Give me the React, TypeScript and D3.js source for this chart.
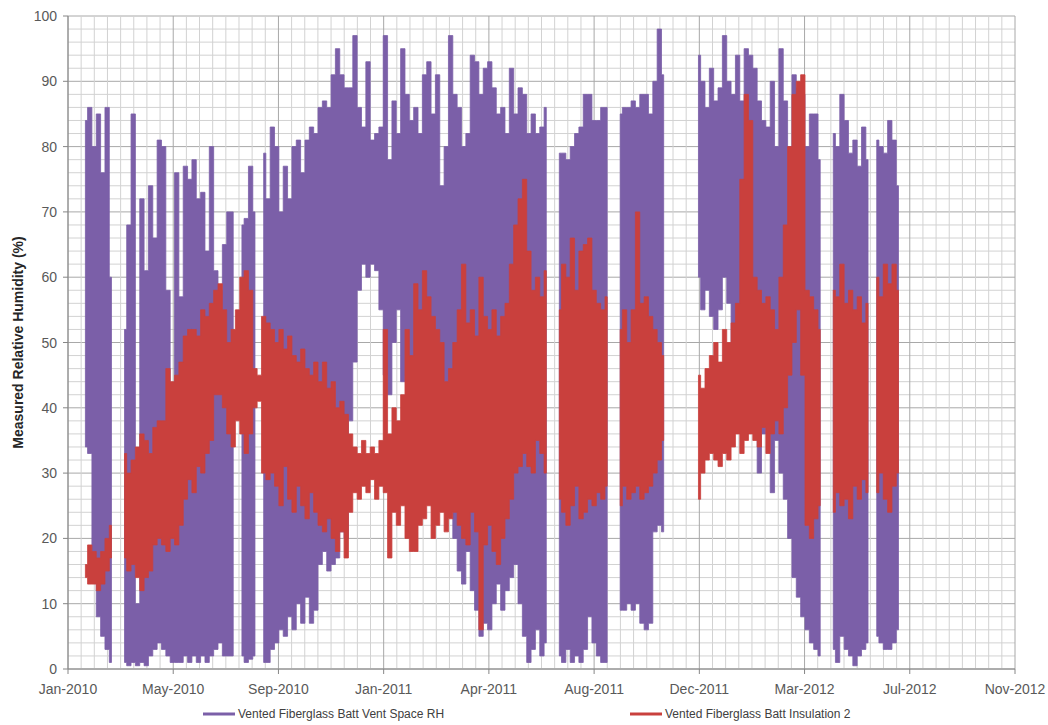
import React from "react";
import * as d3 from "d3";

// readings every 5 days, first one 20 days after 1 Jan 2010
// each reading is the high / low of the band over those 5 days (null = no data)
const firstDay = 20;
const stepDays = 5;

const ventHigh: (number | null)[] = [
  84, 86, 80, 85, 76, 86, 60, null, null, 52,
  68, 85, 10, 72, 61, 74, 66, 81, 80, 58,
  42, 76, 57, 77, 75, 78, 72, 73, 64, 80,
  61, 58, 65, 70, 70, null, 68, 69, 77, 70,
  null, 79, 72, 83, 80, 70, 77, 72, 80, 81,
  76, 81, 83, 82, 86, 87, 86, 91, 95, 91,
  89, 89, 97, 86, 83, 93, 81, 82, 83, 97,
  78, 87, 82, 95, 88, 84, 86, 82, 91, 93,
  85, 91, 74, 80, 97, 88, 86, 80, 82, 94,
  93, 88, 92, 93, 89, 85, 86, 82, 92, 85,
  89, 88, 82, 85, 82, 83, 86, null, null, 79,
  79, 78, 80, 82, 83, 88, 88, 84, 84, 86,
  86, null, null, 85, 86, 86, 87, 86, 88, 88,
  85, 90, 98, 91, null, null, null, null, null, null,
  null, 94, 90, 86, 92, 87, 89, 97, 90, 88,
  94, 87, 95, 94, 92, 87, 84, 83, 90, 80,
  95, 87, 80, 91, 89, 88, 80, 85, 85, 78,
  null, null, 82, 80, 88, 84, 79, 81, 77, 83,
  78, null, 81, 80, 79, 84, 81, 74,
];

const ventLow: (number | null)[] = [
  34, 33, 14, 8, 5, 3, 1, null, null, 1,
  0.5, 1, 0.5, 1, 0.5, 2, 3, 4, 3, 2,
  1, 1, 1, 2, 1, 2, 1, 2, 1, 2,
  3, 4, 2, 2, 2, null, 2, 1, 1.5, 2,
  null, 1, 1, 3, 4, 6, 5, 8, 6, 10,
  7, 11, 7, 9, 16, 18, 15, 16, 17, 21,
  20, 38, 47, 58, 62, 60, 62, 61, 55, 45,
  42, 50, 55, 44, 45, 40, 45, 50, 48, 52,
  46, 40, 38, 35, 30, 20, 15, 13, 18, 12,
  9, 5, 7, 6, 10, 13, 9, 12, 14, 16,
  10, 5, 1, 3, 6, 2, 4, null, null, 2,
  1, 3, 1, 2, 1, 3, 8, 4, 2, 1,
  1, null, null, 9, 9, 10, 9, 10, 7, 6,
  7, 21, 22, 21, null, null, null, null, null, null,
  null, 60, 55, 58, 54, 52, 55, 60, 56, 50,
  47, 45, 42, 40, 38, 30, 36, 40, 27, 35,
  30, 26, 20, 14, 11, 8, 6, 4, 3, 2,
  null, null, 3, 1, 5, 3, 2, 0.5, 2, 3,
  4, null, 5, 4, 3, 3, 4, 6,
];

const insulHigh: (number | null)[] = [
  16, 19, 18, 17, 18, 20, 22, null, null, 33,
  30, 32, 34, 36, 35, 33, 37, 38, 38, 46,
  44, 45, 47, 51, 52, 52, 51, 55, 54, 56,
  58, 59, 55, 50, 52, 55, 60, 61, 58, 46,
  45, 54, 53, 52, 50, 52, 49, 51, 48, 47,
  49, 46, 45, 47, 44, 47, 43, 44, 40, 41,
  39, 36, 34, 33, 35, 33, 34, 33, 35, 52,
  36, 40, 38, 42, 52, 48, 59, 55, 61, 57,
  54, 52, 50, 44, 46, 50, 55, 62, 53, 55,
  51, 60, 54, 52, 55, 51, 54, 56, 62, 68,
  72, 75, 64, 58, 60, 57, 61, null, null, 55,
  62, 60, 66, 58, 64, 65, 66, 58, 56, 55,
  57, null, null, 52, 55, 50, 55, 70, 56, 57,
  54, 52, 50, 48, null, null, null, null, null, null,
  null, 45, 43, 46, 48, 50, 47, 52, 50, 53,
  56, 75, 88, 84, 60, 58, 56, 57, 55, 52,
  60, 68, 80, 88, 90, 91, 58, 57, 55, 52,
  null, null, 58, 57, 62, 56, 58, 55, 57, 53,
  56, null, 60, 57, 62, 59, 62, 58,
];

const insulLow: (number | null)[] = [
  14, 13, 13, 12, 13, 15, 17, null, null, 17,
  15, 16, 14, 12, 14, 15, 19, 20, 19, 18,
  20, 19, 22, 26, 29, 27, 31, 30, 33, 35,
  42, 42, 40, 36, 34, 38, 36, 33, 36, 40,
  41, 30, 29, 30, 28, 25, 31, 26, 24, 28,
  25, 23, 27, 24, 22, 21, 23, 20, 18, 21,
  17, 24, 27, 26, 28, 27, 29, 26, 28, 27,
  17, 24, 22, 25, 20, 18, 18, 22, 23, 25,
  20, 22, 24, 21, 23, 24, 22, 20, 19, 24,
  21, 6, 19, 22, 18, 16, 20, 23, 26, 30,
  31, 33, 31, 30, 35, 33, 30, null, null, 26,
  24, 22, 25, 28, 23, 24, 26, 25, 27, 26,
  28, null, null, 25, 28, 26, 27, 28, 26, 27,
  28, 30, 32, 35, null, null, null, null, null, null,
  null, 26, 30, 32, 33, 32, 31, 33, 32, 34,
  36, 33, 35, 36, 35, 34, 37, 33, 36, 38,
  36, 40, 45, 50, 55, 45, 22, 20, 23, 25,
  null, null, 24, 27, 25, 26, 23, 28, 26, 29,
  27, null, 27, 30, 26, 24, 28, 30,
];

const tickLabels = [
  "Jan-2010", "May-2010", "Sep-2010", "Jan-2011", "Apr-2011",
  "Aug-2011", "Dec-2011", "Mar-2012", "Jul-2012", "Nov-2012",
];
const tickSpanDays = 121;
const minorPerMajor = 8;
const yTicks = [0, 10, 20, 30, 40, 50, 60, 70, 80, 90, 100];

const seriesNames = [
  "Vented Fiberglass Batt Vent Space RH",
  "Vented Fiberglass Batt Insulation 2",
];
const seriesColors = ["#7b5fa8", "#c9403d"];

type Reading = { day: number; hi: number | null; lo: number | null };

function toReadings(hi: (number | null)[], lo: (number | null)[]): Reading[] {
  return hi.map((h, i) => ({ day: firstDay + i * stepDays, hi: h, lo: lo[i] }));
}

export default function App() {
  const width = 1048;
  const height = 725;
  const left = 68;
  const right = 1015;
  const top = 16;
  const bottom = 669;
  const font = "'Liberation Sans', Arial, sans-serif";

  const lastDay = tickSpanDays * (tickLabels.length - 1);
  const x = d3.scaleLinear().domain([0, lastDay]).range([left, right]);
  const y = d3.scaleLinear().domain([0, 100]).range([bottom, top]);

  // stepped band: each reading becomes a short vertical column, like the dense daily swings
  const band = d3
    .area<Reading>()
    .defined((d) => d.hi != null && d.lo != null)
    .curve(d3.curveStep)
    .x((d) => x(d.day))
    .y0((d) => y(d.lo as number))
    .y1((d) => y(d.hi as number));

  const series = [toReadings(ventHigh, ventLow), toReadings(insulHigh, insulLow)];

  const hGrid = d3.range(0, 101, 2);
  const vGrid = d3.range(0, lastDay + 0.01, tickSpanDays / minorPerMajor);
  const majorDays = tickLabels.map((_, i) => i * tickSpanDays);

  return (
    <div style={{ position: "absolute", left: 0, top: 0, background: "#fff" }}>
      <svg width={width} height={height} style={{ display: "block" }}>
        <rect width={width} height={height} fill="#fff" />

        {hGrid.map((v) => (
          <line
            key={"h" + v}
            x1={left}
            x2={right}
            y1={y(v)}
            y2={y(v)}
            stroke={v % 10 === 0 ? "#a8a8a8" : "#d2d2d2"}
            strokeWidth={1}
          />
        ))}
        {vGrid.map((d, i) => (
          <line
            key={"v" + i}
            x1={x(d)}
            x2={x(d)}
            y1={top}
            y2={bottom}
            stroke={i % minorPerMajor === 0 ? "#a8a8a8" : "#d2d2d2"}
            strokeWidth={1}
          />
        ))}

        {series.map((s, i) => (
          <path
            key={seriesNames[i]}
            d={band(s) || ""}
            fill={seriesColors[i]}
            stroke={seriesColors[i]}
            strokeWidth={0.8}
          />
        ))}

        <line x1={left} x2={left} y1={top} y2={bottom} stroke="#868686" />
        <line x1={left} x2={right} y1={bottom} y2={bottom} stroke="#868686" />

        {yTicks.map((v) => (
          <g key={"yt" + v}>
            <line x1={left - 5} x2={left} y1={y(v)} y2={y(v)} stroke="#868686" />
            <text
              x={left - 11}
              y={y(v) + 5}
              textAnchor="end"
              fontFamily={font}
              fontSize={14}
              fill="#595959"
            >
              {v}
            </text>
          </g>
        ))}

        {majorDays.map((d, i) => (
          <g key={"xt" + i}>
            <line x1={x(d)} x2={x(d)} y1={bottom} y2={bottom + 5} stroke="#868686" />
            <text
              x={x(d)}
              y={694}
              textAnchor="middle"
              fontFamily={font}
              fontSize={14}
              fill="#595959"
            >
              {tickLabels[i]}
            </text>
          </g>
        ))}

        <text
          transform={`translate(23,${(top + bottom) / 2}) rotate(-90)`}
          textAnchor="middle"
          fontFamily={font}
          fontSize={14}
          fontWeight="bold"
          fill="#262626"
        >
          Measured Relative Humidity (%)
        </text>

        {seriesNames.map((name, i) => {
          const lx = i === 0 ? 203 : 630;
          return (
            <g key={"lg" + i}>
              <line
                x1={lx}
                x2={lx + 32}
                y1={714}
                y2={714}
                stroke={seriesColors[i]}
                strokeWidth={3}
              />
              <text x={lx + 35} y={718} fontFamily={font} fontSize={12} fill="#404040">
                {name}
              </text>
            </g>
          );
        })}
      </svg>
    </div>
  );
}
